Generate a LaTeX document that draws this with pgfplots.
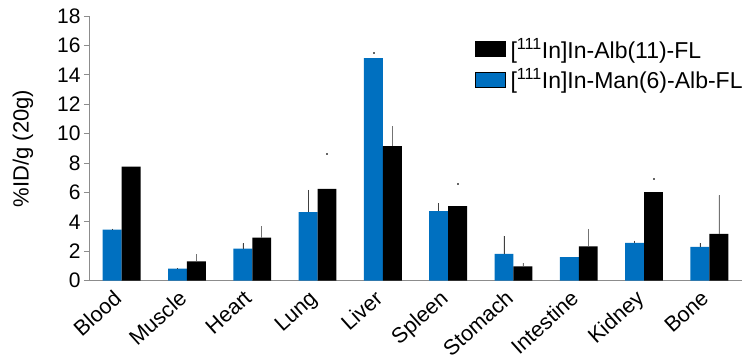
\documentclass[border=0pt]{standalone}
\usepackage{fontspec}
\setmainfont{Liberation Sans}
\usepackage{pgfplots}
\pgfplotsset{compat=1.18}
\definecolor{myblue}{RGB}{0,112,192}
\definecolor{axgray}{RGB}{140,140,140}
\begin{document}
\begin{tikzpicture}
\begin{axis}[
  scale only axis,
  width=653pt, height=264.7pt,
  at={(0,0)}, anchor=south west,
  xmin=-0.5, xmax=9.5,
  ymin=0, ymax=18,
  ytick={0,2,...,18},
  xtick={0,...,9},
  xticklabels={Blood,Muscle,Heart,Lung,Liver,Spleen,Stomach,Intestine,Kidney,Bone},
  axis x line*=bottom, axis y line*=left,
  axis line style={axgray, line width=0.9pt},
  x axis line style={-}, y axis line style={-},
  tick align=outside,
  major tick length=5pt,
  ytick style={axgray, line width=0.9pt},
  xtick style={draw=none},
  /pgf/number format/assume math mode=true,
  yticklabel style={font=\fontsize{21}{25}\selectfont, text=black},
  xticklabel style={font=\fontsize{21.5}{26}\selectfont, rotate=42, anchor=north east, inner sep=1pt, xshift=-8pt, yshift=5pt},
  ylabel={\%ID/g (20g)},
  ylabel style={font=\fontsize{22}{26}\selectfont, at={(axis description cs:-0.101,0.5)}, anchor=center},
  legend style={draw=none, fill=none, at={(0.591,0.925)}, anchor=north west,
    font=\fontsize{23}{27}\selectfont, row sep=5pt, inner sep=0pt,
    nodes={inner xsep=5pt}},
  legend cell align=left,
  legend image code/.code={\fill[#1] (0pt,-7.5pt) rectangle (30pt,7.5pt);},
  clip=false,
]
\addplot[ybar, bar width=0.29, bar shift=0, fill=myblue, draw=none, forget plot,
  error bars/.cd, y dir=plus, y explicit, error mark=none,
  error bar style={black!75, line width=0.5pt}]
coordinates {
 (-0.145,3.47) += (0,0.08) -= (0,0)
 (0.855,0.82) += (0,0.03) -= (0,0)
 (1.855,2.18) += (0,0.36) -= (0,0)
 (2.855,4.67) += (0,1.50) -= (0,0)
 (3.855,15.13) += (0,0) -= (0,0)
 (4.855,4.73) += (0,0.54) -= (0,0)
 (5.855,1.82) += (0,1.23) -= (0,0)
 (6.855,1.61) += (0,0) -= (0,0)
 (7.855,2.57) += (0,0.16) -= (0,0)
 (8.855,2.30) += (0,0.27) -= (0,0)
};
\addplot[ybar, bar width=0.29, bar shift=0, fill=black, draw=none, forget plot,
  error bars/.cd, y dir=plus, y explicit, error mark=none,
  error bar style={black!55, line width=0.5pt}]
coordinates {
 (0.145,7.76) += (0,0) -= (0,0)
 (1.145,1.32) += (0,0.48) -= (0,0)
 (2.145,2.93) += (0,0.79) -= (0,0)
 (3.145,6.24) += (0,0) -= (0,0)
 (4.145,9.15) += (0,1.35) -= (0,0)
 (5.145,5.07) += (0,0) -= (0,0)
 (6.145,0.98) += (0,0.22) -= (0,0)
 (7.145,2.34) += (0,1.18) -= (0,0)
 (8.145,6.02) += (0,0) -= (0,0)
 (9.145,3.18) += (0,2.62) -= (0,0)
};
% faint error bar tips (only the caps are visible in the reference)
\addplot[only marks, mark=square*, mark size=0.5pt, black!60, forget plot]
coordinates {(3.145,8.67) (5.145,6.63) (8.145,6.93) (3.855,15.5)};
\addlegendimage{fill=black}
\addlegendentry{[\textsuperscript{111}In]In-Alb(11)-FL}
\addlegendimage{fill=myblue}
\addlegendentry{[\textsuperscript{111}In]In-Man(6)-Alb-FL}
\end{axis}
\pgfresetboundingbox
\path[use as bounding box] (-89pt,-79.3pt) rectangle (658pt,280.7pt);
\end{tikzpicture}
\end{document}
